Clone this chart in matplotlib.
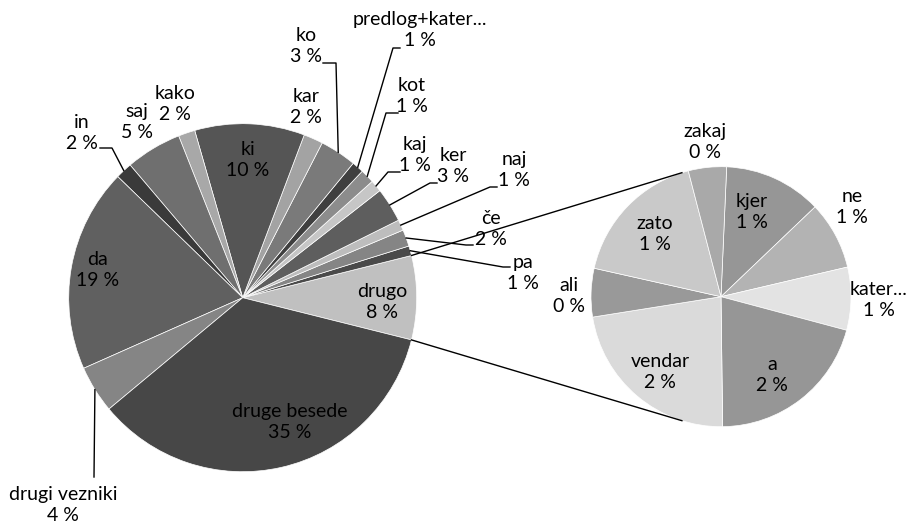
import numpy as np
import matplotlib.pyplot as plt

# glavni krog (v smeri proti urnemu kazalcu, začne se za "drugo")
main_labels = ['pa', 'če', 'naj', 'ker', 'kaj', 'kot', 'predlog+kater...', 'ko', 'kar',
               'ki', 'kako', 'saj', 'in', 'da', 'drugi vezniki', 'druge besede']
main_values = [0.9, 1.55, 1.0, 3.2, 1.1, 1.3, 1.1, 3.4, 1.8,
               10.2, 1.55, 5.2, 1.55, 18.9, 4.4, 35.05]
main_colors = ['#4a4a4a', '#858585', '#bdbdbd', '#5e5e5e', '#c6c6c6', '#8c8c8c', '#3f3f3f', '#7a7a7a', '#a3a3a3',
               '#555555', '#a8a8a8', '#6f6f6f', '#3a3a3a', '#606060', '#858585', '#474747']

# drugi krog (razčlenitev "drugo", v smeri urnega kazalca)
sub_labels = ['kjer', 'ne', 'kater...', 'a', 'vendar', 'ali', 'zato', 'zakaj']
sub_values = [0.95, 0.66, 0.61, 1.61, 1.77, 0.47, 1.36, 0.37]
sub_colors = ['#969696', '#b3b3b3', '#e3e3e3', '#969696', '#dadada', '#999999', '#c9c9c9', '#a9a9a9']

other_label = 'drugo'
other_color = '#c0c0c0'

W, H = 914, 523
plt.rcParams['font.family'] = ['Lato', 'DejaVu Sans']
FS = 14
LS = 1.3

fig = plt.figure(figsize=(W / 100, H / 100), dpi=100)
ax = fig.add_axes([0, 0, 1, 1])

c1, r1 = (242.7, H - 297.7), 174
c2, r2 = (721, H - 296.7), 130

other_value = sum(sub_values)
vals1 = [other_value] + main_values
labs1 = [other_label] + main_labels
cols1 = [other_color] + main_colors
start1 = -360 * other_value / 100 / 2

w1, _ = ax.pie(vals1, colors=cols1, startangle=start1, counterclock=True, center=c1,
               radius=r1, wedgeprops=dict(edgecolor='white', linewidth=0.5))
w2, _ = ax.pie(sub_values, colors=sub_colors, startangle=87.5, counterclock=False, center=c2,
               radius=r2, wedgeprops=dict(edgecolor='white', linewidth=0.5))


def pct(v):
    return f'{v:.0f} %'


def rim(wedge, center, r):
    a = np.deg2rad((wedge.theta1 + wedge.theta2) / 2)
    return center[0] + r * np.cos(a), center[1] + r * np.sin(a)


# položaji oznak (px od zgoraj) in vodilne črte: (sidro x, sidro y, koleno x)
label_pos = {
    'drugo': (382, 302), 'pa': (523, 273), 'če': (491, 229), 'naj': (514, 170), 'ker': (453, 166),
    'kaj': (415, 155), 'kot': (412, 96), 'predlog+kater...': (420, 30), 'ko': (306, 46),
    'kar': (306, 107), 'ki': (248, 160), 'kako': (175, 104), 'saj': (137, 122), 'in': (82, 133),
    'da': (98, 270), 'drugi vezniki': (63, 505), 'druge besede': (290, 422),
}
leaders = {
    'pa': (510, 267, 503), 'če': (473, 245, 466), 'naj': (497, 187, 490), 'ker': (437, 183, 430),
    'kaj': (400, 172, 388), 'kot': (398, 113, 386), 'predlog+kater...': (400, 48, 393),
    'ko': (323, 63, 336), 'in': (100, 148, 112), 'drugi vezniki': (94, 477, 94),
}
sub_pos = {
    'kjer': (752, 212), 'ne': (852, 207), 'kater...': (879, 300), 'a': (772, 375),
    'vendar': (660, 372), 'ali': (569, 296), 'zato': (655, 234), 'zakaj': (705, 142),
}

for w, lab, v in zip(w1, labs1, vals1):
    x, y = label_pos[lab]
    ax.text(x, H - y, f'{lab}\n{pct(v)}', ha='center', va='center', fontsize=FS,
            linespacing=LS, color='black')
    if lab in leaders:
        ax_, ay_, ex = leaders[lab]
        rx, ry = rim(w, c1, r1)
        ax.plot([ax_, ex, rx], [H - ay_, H - ay_, ry], color='black', lw=1)

for w, lab, v in zip(w2, sub_labels, sub_values):
    x, y = sub_pos[lab]
    ax.text(x, H - y, f'{lab}\n{pct(v)}', ha='center', va='center', fontsize=FS,
            linespacing=LS, color='black')

# povezovalni črti med krogoma
half = np.deg2rad(360 * other_value / 100 / 2)
conn = np.deg2rad(107.5)
for s in (1, -1):
    ax.plot([c1[0] + r1 * np.cos(half), c2[0] + r2 * np.cos(conn)],
            [c1[1] + s * r1 * np.sin(half), c2[1] + s * r2 * np.sin(conn)], color='black', lw=1)

ax.set_xlim(0, W)
ax.set_ylim(0, H)
ax.set_aspect('equal')
ax.axis('off')
fig.savefig('out.png', dpi=100, facecolor='white')
